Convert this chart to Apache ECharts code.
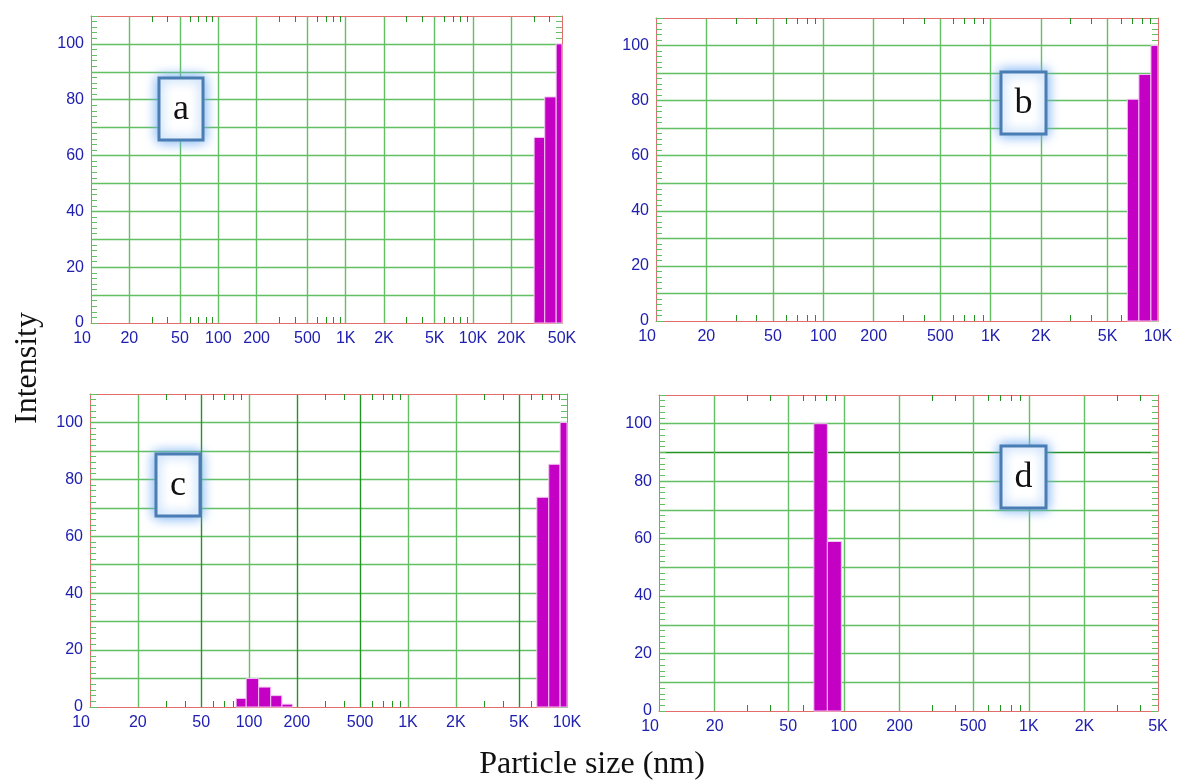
<!DOCTYPE html>
<html>
<head>
<meta charset="utf-8">
<script src="https://cdn.jsdelivr.net/npm/echarts@6/dist/echarts.min.js"></script>
<style>
  html, body { margin: 0; padding: 0; background: #fff; }
  #main { width: 1179px; height: 781px; }
</style>
</head>
<body>
<div id="main"></div>
<script>
// size axis ticks (log scale)
var tickSizes = [10, 20, 50, 100, 200, 500, 1000, 2000, 5000, 10000, 20000, 50000]
var tickLabels = ['10', '20', '50', '100', '200', '500', '1K', '2K', '5K', '10K', '20K', '50K']
var minorSizes = [30, 40, 60, 70, 80, 90, 300, 400, 600, 700, 800, 900,
  3000, 4000, 6000, 7000, 8000, 9000, 30000, 40000]
var yLabels = [0, 20, 40, 60, 80, 100]

var panelNames = ['a', 'b', 'c', 'd']
var panelMax = [50000, 10000, 10000, 5000]

// bin edges (nm) + intensity per bin
var edgesA = [30200, 36600, 45000, 50000]
var valuesA = [66.5, 81, 100]
var edgesB = [6560, 7690, 9070, 10000]
var valuesB = [80.5, 89.5, 100]
var edgesC1 = [83, 96, 115, 137, 161, 188]
var valuesC1 = [3, 10, 7, 4, 1]
var edgesC2 = [6460, 7680, 9050, 10000]
var valuesC2 = [73.7, 85.3, 100]
var edgesD = [68.8, 81.4, 96.9]
var valuesD = [100, 59]

var RED = '#e36d6d'
var GREEN = '#62c062'
var DARK = '#239323'
var BLUE = '#2020b0'

var grids = [
  { left: 91, top: 16, width: 471, height: 307 },
  { left: 656, top: 18, width: 502, height: 303 },
  { left: 90, top: 394, width: 477, height: 313 },
  { left: 659, top: 395, width: 499, height: 316 }
]
// darker split lines seen in the scan
var vLineColors = [[GREEN], [GREEN], [GREEN, DARK, GREEN, DARK, DARK, GREEN, GREEN, DARK], [GREEN]]
var hLineColors = [[GREEN], [GREEN], [GREEN],
  [GREEN, GREEN, GREEN, GREEN, GREEN, GREEN, GREEN, GREEN, DARK, GREEN]]

function lg(v) { return Math.log10(v) }

function toBins(edges, values) {
  var out = []
  for (var i = 0; i < values.length; i++) {
    out.push([lg(edges[i]), lg(edges[i + 1]), values[i]])
  }
  return out
}
var panelBins = [
  toBins(edgesA, valuesA),
  toBins(edgesB, valuesB),
  toBins(edgesC1, valuesC1).concat(toBins(edgesC2, valuesC2)),
  toBins(edgesD, valuesD)
]

function renderBins(params, api) {
  var lo = api.coord([api.value(0), 0])
  var hi = api.coord([api.value(1), api.value(2)])
  return {
    type: 'rect',
    shape: { x: lo[0], y: hi[1], width: hi[0] - lo[0], height: lo[1] - hi[1] },
    style: { fill: '#c400c4', stroke: '#f2c6f2', lineWidth: 1 }
  }
}

var xAxes = [], yAxes = [], series = [], graphics = []

grids.forEach(function (g, i) {
  var max = panelMax[i]
  var labelVals = [], labelTxt = []
  tickSizes.forEach(function (s, k) {
    if (s <= max) { labelVals.push(lg(s)); labelTxt.push(tickLabels[k]) }
  })
  var gridVals = tickSizes.filter(function (s) { return s > 10 && s < max }).map(lg)
  var minorVals = minorSizes.filter(function (s) { return s < max }).map(lg)

  // main bottom axis: labels + vertical grid
  xAxes.push({
    type: 'value', gridIndex: i, position: 'bottom', min: 1, max: lg(max),
    axisLine: { lineStyle: { color: RED, width: 1 } },
    axisTick: { show: false, customValues: gridVals },
    splitLine: { show: true, lineStyle: { color: vLineColors[i], width: 1.4 } },
    axisLabel: {
      customValues: labelVals, margin: 8, color: BLUE, fontSize: 16,
      fontFamily: 'Liberation Sans', alignMinLabel: 'right',
      formatter: function (v) {
        for (var k = 0; k < labelVals.length; k++) {
          if (Math.abs(labelVals[k] - v) < 1e-6) return labelTxt[k]
        }
        return ''
      }
    }
  })
  // minor ticks bottom
  xAxes.push({
    type: 'value', gridIndex: i, position: 'bottom', min: 1, max: lg(max),
    axisLine: { show: false },
    axisTick: { show: true, inside: true, length: 6, customValues: minorVals,
      lineStyle: { color: DARK } },
    axisLabel: { show: false }, splitLine: { show: false }
  })
  // top frame with minor ticks
  xAxes.push({
    type: 'value', gridIndex: i, position: 'top', min: 1, max: lg(max),
    axisLine: { lineStyle: { color: RED, width: 1 } },
    axisTick: { show: true, inside: true, length: 6, customValues: minorVals,
      lineStyle: { color: DARK } },
    axisLabel: { show: false }, splitLine: { show: false }
  })

  yAxes.push({
    type: 'value', gridIndex: i, position: 'left', min: 0, max: 110, interval: 10,
    axisLine: { show: true, lineStyle: { color: RED, width: 1 } },
    axisTick: { show: true, inside: true, length: 7, lineStyle: { color: GREEN } },
    minorTick: { show: true, splitNumber: 5, length: 6, lineStyle: { color: GREEN } },
    splitLine: { show: true, showMinLine: false, showMaxLine: false,
      lineStyle: { color: hLineColors[i], width: 1.4 } },
    axisLabel: { customValues: yLabels, margin: 7, color: BLUE, fontSize: 16,
      fontFamily: 'Liberation Sans' }
  })
  yAxes.push({
    type: 'value', gridIndex: i, position: 'right', min: 0, max: 110, interval: 10,
    axisLine: { show: true, lineStyle: { color: RED, width: 1 } },
    axisTick: { show: true, inside: true, length: 7, lineStyle: { color: GREEN } },
    minorTick: { show: true, splitNumber: 5, length: 6, lineStyle: { color: GREEN } },
    splitLine: { show: false },
    axisLabel: { show: false }
  })

  series.push({
    type: 'custom',
    xAxisIndex: i * 3,
    yAxisIndex: i * 2,
    renderItem: renderBins,
    encode: { x: [0, 1], y: 2 },
    data: panelBins[i],
    silent: true,
    z: 3
  })
})

// panel letters in glowing boxes
var boxes = [
  { x: 159, y: 78, w: 44, h: 62 },
  { x: 1001, y: 72, w: 45, h: 62 },
  { x: 156, y: 454, w: 44, h: 62 },
  { x: 1001, y: 446, w: 45, h: 62 }
]
boxes.forEach(function (b, i) {
  graphics.push({
    type: 'rect', z: 10,
    shape: { x: b.x, y: b.y, width: b.w, height: b.h },
    style: { fill: '#fff', stroke: '#4a7db3', lineWidth: 3,
      shadowBlur: 12, shadowColor: 'rgba(110,170,240,1)' }
  })
  graphics.push({
    type: 'text', z: 11,
    x: b.x + b.w / 2, y: b.y + b.h / 2 + 1,
    style: { text: panelNames[i], fill: '#111', fontSize: 36,
      fontFamily: 'Liberation Serif', align: 'center', verticalAlign: 'middle' }
  })
})

graphics.push({
  type: 'text', z: 11, x: 28, y: 368, rotation: Math.PI / 2,
  style: { text: 'Intensity', fill: '#111', fontSize: 32,
    fontFamily: 'Liberation Serif', align: 'center', verticalAlign: 'middle' }
})
graphics.push({
  type: 'text', z: 11, x: 592, y: 765,
  style: { text: 'Particle size (nm)', fill: '#111', fontSize: 32,
    fontFamily: 'Liberation Serif', align: 'center', verticalAlign: 'middle' }
})

var chart = echarts.init(document.getElementById('main'))
chart.setOption({
  animation: false,
  backgroundColor: '#fff',
  grid: grids,
  xAxis: xAxes,
  yAxis: yAxes,
  series: series,
  graphic: graphics
})
</script>
</body>
</html>
